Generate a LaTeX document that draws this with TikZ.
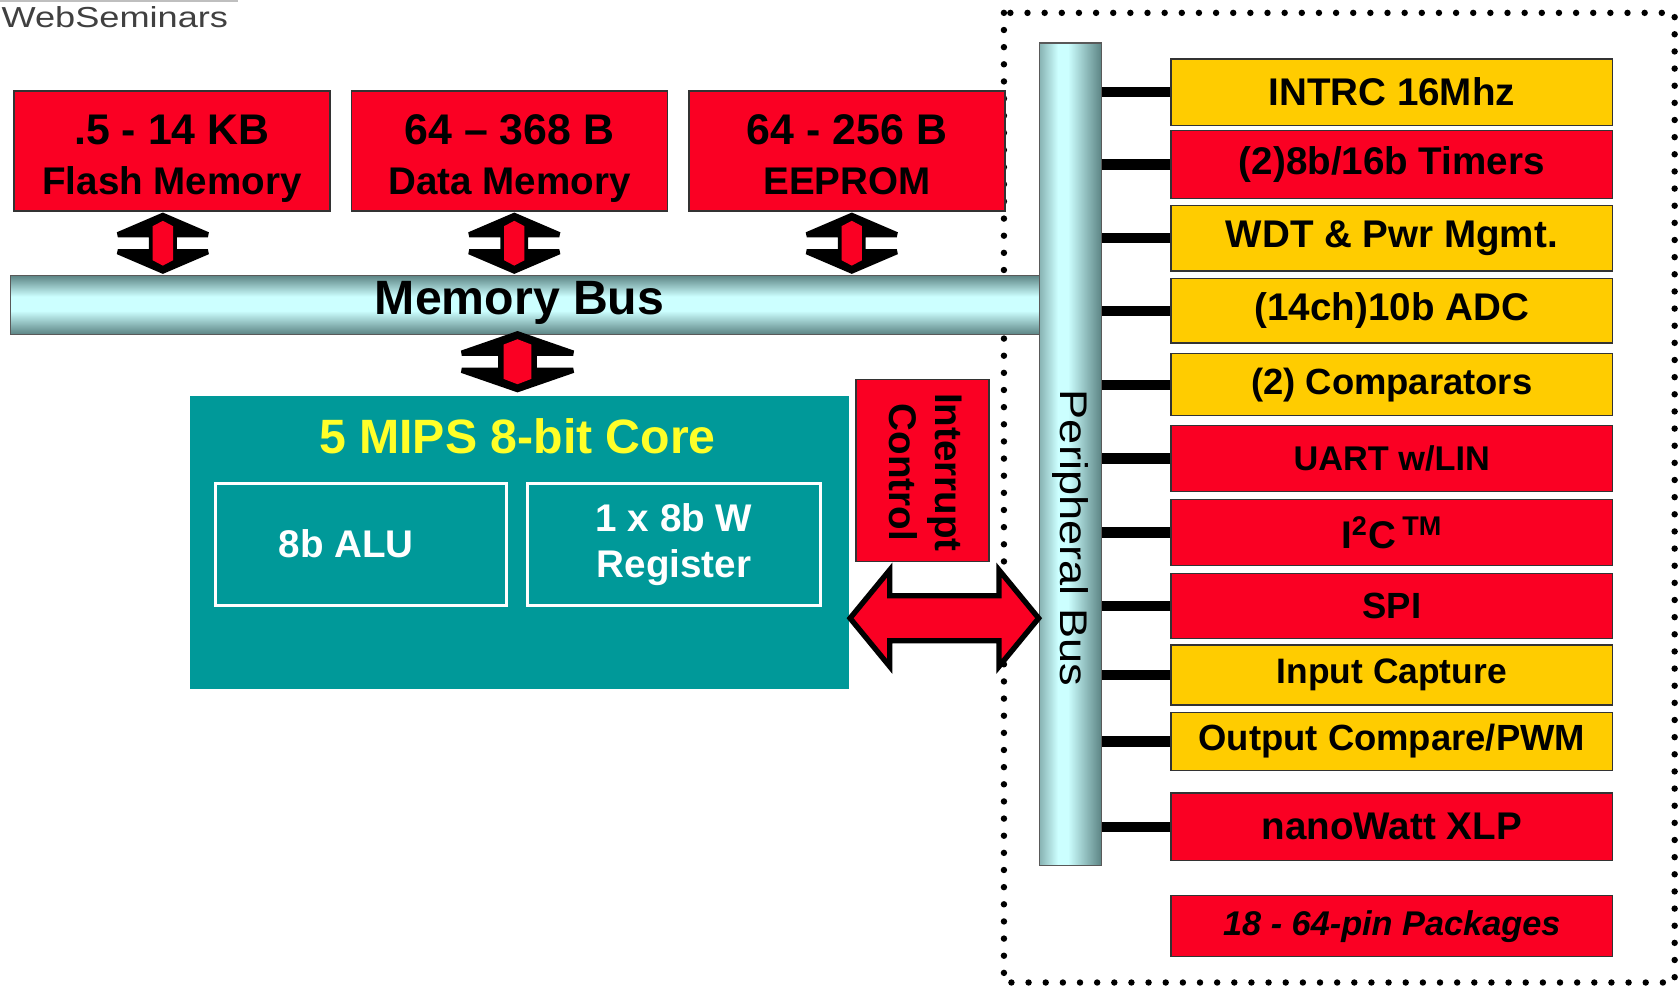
\documentclass[tikz,border=0pt]{standalone}
\usepackage{fontspec}
\setmainfont{Liberation Sans}
\usetikzlibrary{calc}
\definecolor{redc}{RGB}{250,0,35}
\definecolor{yelc}{RGB}{255,204,0}
\definecolor{tealc}{RGB}{0,153,153}
\definecolor{busdark}{RGB}{92,132,132}
\definecolor{busmid}{RGB}{135,178,178}
\definecolor{buslight}{RGB}{204,255,255}
\definecolor{coreyel}{RGB}{255,255,40}
\pgfdeclareverticalshading{membusshade}{100bp}{color(0bp)=(busdark); color(25bp)=(busdark); color(45bp)=(buslight); color(57bp)=(buslight); color(75bp)=(busdark); color(100bp)=(busdark)}
\pgfdeclarehorizontalshading{pbusshade}{100bp}{color(0bp)=(busmid); color(25bp)=(busmid); color(40bp)=(buslight); color(48bp)=(buslight); color(75bp)=(busdark); color(100bp)=(busdark)}
\tikzset{
  memboxst/.style={draw=black!80, line width=0.6pt, fill=redc, minimum width=147.5pt, minimum height=56pt, inner sep=0pt, align=center, font=\bfseries\fontsize{18}{23}\selectfont},
  perst/.style={draw=black!80, line width=0.6pt, minimum width=206pt, inner sep=0pt, font=\bfseries\fontsize{18}{21}\selectfont},
  redp/.style={perst, fill=redc},
  yelp/.style={perst, fill=yelc},
  conn/.style={line width=4.75pt, black, line cap=butt},
  blockarrow/.style={fill=redc, draw=black, line width=2.5pt, line join=miter, miter limit=4},
  blockarrowv/.style={fill=black, draw=black, line width=2.5pt, line join=miter, miter limit=4},
  busst/.style={draw=black!65, line width=0.6pt, inner sep=0pt},
  dotborder/.style={line width=3pt, line cap=round, dash pattern=on 0pt off 8pt},
  innerbox/.style={draw=white, line width=1.5pt, inner sep=0pt, minimum width=136pt, minimum height=57pt, align=center, text=white, font=\bfseries\fontsize{18}{21.5}\selectfont},
}
\newcommand\mydarrowv[6]{%
  \draw[blockarrowv] let \p1=(#1), \p2=(#2) in (\x1,\y1) -- (\x1+#4,\y1-#5) -- (\x1+#3,\y1-#5) -- (\x1+#3,\y2+#5) -- (\x1+#4,\y2+#5) -- (\x1,\y2) -- (\x1-#4,\y2+#5) -- (\x1-#3,\y2+#5) -- (\x1-#3,\y1-#5) -- (\x1-#4,\y1-#5) -- cycle;
  \fill[redc] let \p1=(#1), \p2=(#2) in (\x1,\y1-2.5pt) -- (\x1+#6,\y1-5pt) -- (\x1+#6,\y2+5pt) -- (\x1,\y2+2.5pt) -- (\x1-#6,\y2+5pt) -- (\x1-#6,\y1-5pt) -- cycle;}
\newcommand\mydarrowh[5]{\draw[blockarrow] let \p1=(#1), \p2=(#2) in (\x1,\y1) -- (\x1+#5,\y1+#4) -- (\x1+#5,\y1+#3) -- (\x2-#5,\y1+#3) -- (\x2-#5,\y1+#4) -- (\x2,\y1) -- (\x2-#5,\y1-#4) -- (\x2-#5,\y1-#3) -- (\x1+#5,\y1-#3) -- (\x1+#5,\y1-#4) -- cycle;}
\begin{document}
\begin{tikzpicture}[x=0.5pt, y=-0.5pt]
\clip (0,0) rectangle (1568,921);
\fill[white] (0,0) rectangle (1568,921);
% header
\draw[black!25, line width=1pt] (0,1) -- (222,1);
\node[anchor=base west, inner sep=0pt, text=black!75, font=\fontsize{13.5}{16}\selectfont, xscale=1.25] (ws) at (1,26) {WebSeminars};
% dotted border
\draw[dotborder] (937,12) rectangle (1563,917);
% buses
\node[busst, shading=membusshade, minimum width=481pt, minimum height=27.5pt] (membus) at (491,284.5) {};
\node[font=\bfseries\fontsize{22.5}{27}\selectfont] (mbtext) at (485,283) {Memory Bus};
\node[busst, shading=pbusshade, minimum width=29pt, minimum height=384pt] (pbus) at (999,424) {};
\node[rotate=-90, xscale=1.17, font=\fontsize{18}{21}\selectfont] (pbtext) at (999,502) {Peripheral Bus};
% memory boxes
\node[memboxst] (flash) at (160.5,141) {};
\node[memboxst] (data) at (475.5,141) {};
\node[memboxst] (eeprom) at (790.5,141) {};
\node[align=center, inner sep=0pt, font=\bfseries\fontsize{18}{23}\selectfont, yshift=-4pt] (flasht) at (flash) {{\fontsize{20}{23}\selectfont\strut .5 - 14 KB}\\\strut Flash Memory};
\node[align=center, inner sep=0pt, font=\bfseries\fontsize{18}{23}\selectfont, yshift=-4pt] (datat) at (data) {{\fontsize{20}{23}\selectfont\strut 64 – 368 B}\\\strut Data Memory};
\node[align=center, inner sep=0pt, font=\bfseries\fontsize{18}{23}\selectfont, yshift=-4pt] (eepromt) at (eeprom) {{\fontsize{20}{23}\selectfont\strut 64 - 256 B}\\\strut EEPROM};
% peripherals
\node[yelp, minimum height=31pt] (p1) at (1299,86) {INTRC 16Mhz};
\node[redp, minimum height=31.5pt] (p2) at (1299,153.5) {(2)8b/16b Timers};
\node[yelp, minimum height=30.5pt] (p3) at (1299,222.5) {WDT \& Pwr Mgmt.};
\node[yelp, minimum height=30pt] (p4) at (1299,290) {(14ch)10b ADC};
\node[yelp, minimum height=29pt, font=\bfseries\fontsize{17}{20}\selectfont] (p5) at (1299,359) {(2) Comparators};
\node[redp, minimum height=31pt, font=\bfseries\fontsize{16}{19}\selectfont] (p6) at (1299,428) {UART w/LIN};
\node[redp, minimum height=31pt] (p7) at (1299,497) {I\textsuperscript{2}C\,\textsuperscript{TM}};
\node[redp, minimum height=30.5pt, font=\bfseries\fontsize{17}{20}\selectfont] (p8) at (1299,565.5) {SPI};
\node[yelp, minimum height=28pt, font=\bfseries\fontsize{16.5}{20}\selectfont] (p9) at (1299,630) {Input Capture};
\node[yelp, minimum height=27pt, font=\bfseries\fontsize{17}{20}\selectfont] (p10) at (1299,692) {Output Compare/PWM};
\node[redp, minimum height=31.5pt] (p11) at (1299,771.5) {nanoWatt XLP};
\node[redp, minimum height=28.5pt, font=\bfseries\itshape\fontsize{16}{19}\selectfont] (p12) at (1299,864.5) {18 - 64-pin Packages};
\foreach \i in {1,...,11} \draw[conn] (p\i.west) -- (p\i.west -| pbus.east);
% core
\node[fill=tealc, inner sep=0pt, minimum width=307.5pt, minimum height=136.5pt] (core) at (484.5,506.5) {};
\node[text=coreyel, font=\bfseries\fontsize{22.5}{27}\selectfont] (coretitle) at (483,407) {5 MIPS 8-bit Core};
\node[innerbox] (alu) at (337,508) {};
\node[text=white, font=\bfseries\fontsize{18}{21.5}\selectfont] (alutext) at (323,507) {8b ALU};
\node[innerbox, minimum width=136.75pt] (wreg) at (629,508) {1 x 8b W\\Register};
% interrupt control
\node[draw=black!80, line width=0.6pt, fill=redc, inner sep=0pt, minimum width=62pt, minimum height=85pt] (intc) at (861,439) {};
\node[rotate=-90, align=center, font=\bfseries\fontsize{18}{21.5}\selectfont] (intctext) at (863.5,441) {Interrupt\\Control};
% block arrows
\coordinate (a1) at (152,0);
\coordinate (a2) at (480,0);
\coordinate (a3) at (795,0);
\coordinate (a4) at (483,0);
\coordinate (ay) at (0,577);
\mydarrowv{$(flash.south -| a1)+(0,3.5)$}{$(membus.north -| a1)+(0,-3.5)$}{5.25pt}{21pt}{9pt}{4.75pt}
\mydarrowv{$(data.south -| a2)+(0,3.5)$}{$(membus.north -| a2)+(0,-3.5)$}{5.25pt}{21pt}{9pt}{4.75pt}
\mydarrowv{$(eeprom.south -| a3)+(0,3.5)$}{$(membus.north -| a3)+(0,-3.5)$}{5.25pt}{21pt}{9pt}{4.75pt}
\mydarrowv{$(membus.south -| a4)+(0,-1)$}{$(core.north -| a4)+(0,-6)$}{7.75pt}{26pt}{9pt}{6.5pt}
\mydarrowh{$(core.east |- ay)+(1,0)$}{$(pbus.west |- ay)$}{10.5pt}{22.5pt}{18.5pt}
\end{tikzpicture}
\end{document}
